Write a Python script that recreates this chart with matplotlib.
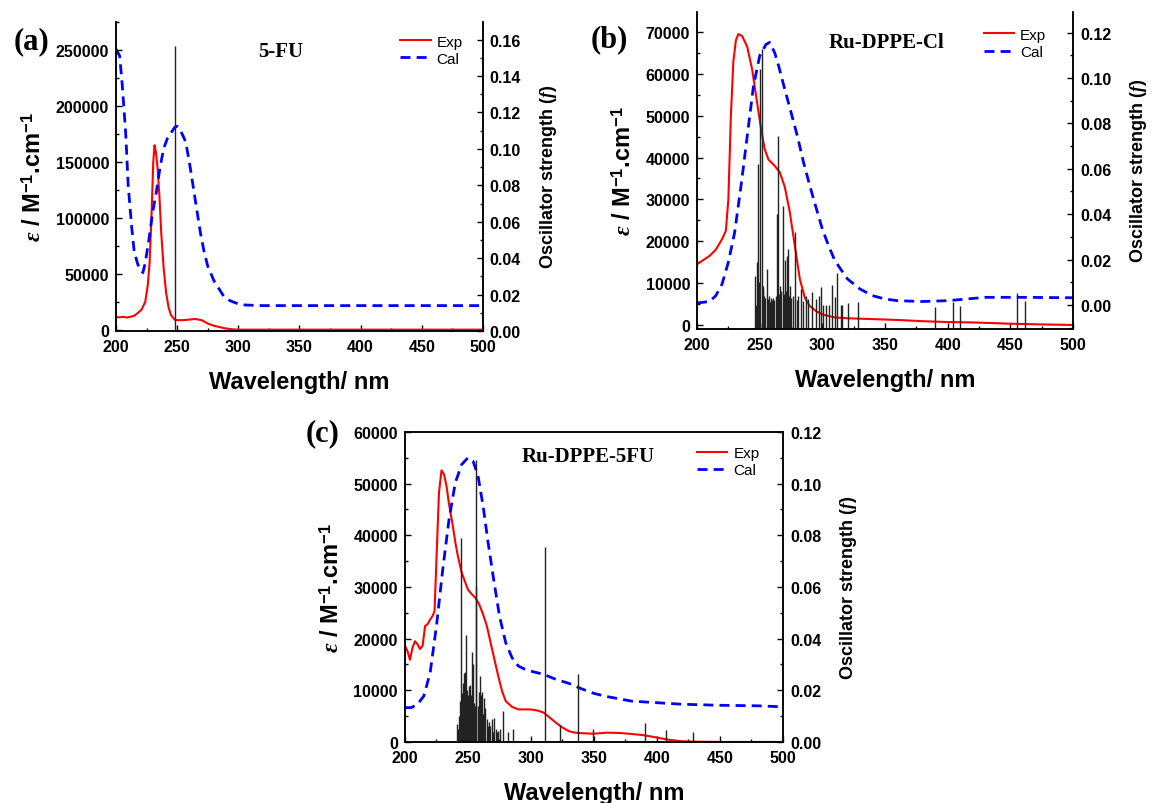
import matplotlib
matplotlib.use('Agg')
import matplotlib.pyplot as plt
from matplotlib.ticker import MultipleLocator, FormatStrFormatter

plt.rcParams['font.family'] = ['Liberation Sans', 'DejaVu Sans']
plt.rcParams['font.weight'] = 'bold'
plt.rcParams['axes.labelweight'] = 'bold'
plt.rcParams['mathtext.fontset'] = 'custom'
plt.rcParams['mathtext.rm'] = 'Liberation Sans:bold'
plt.rcParams['mathtext.bf'] = 'Liberation Sans:bold'
plt.rcParams['mathtext.it'] = 'Liberation Serif:italic'

# ---- (a) 5-FU ----
a_exp_nm = [200, 203, 206, 209, 212, 215, 218, 221, 224, 226, 227.5, 229, 230.5, 231.5,
            232.5, 234, 235.5, 237, 239, 241, 243, 245, 248, 250, 255, 260, 265, 270,
            275, 280, 285, 290, 295, 300, 350, 400, 450, 500]
a_exp_eps = [11300, 11000, 11500, 10800, 11500, 12500, 15000, 18000, 25000, 40000, 60000,
             100000, 150000, 165000, 160000, 145000, 120000, 87000, 55000, 33000, 20000,
             13000, 9000, 8500, 8500, 9000, 9500, 8500, 5500, 3500, 2200, 1000, 300, 0,
             0, 0, 0, 0]
a_cal_nm = [200, 203, 205, 208, 210, 213, 215, 218, 220, 222, 224, 227, 230, 233, 236,
            239, 242, 245, 248, 250, 252, 255, 257, 260, 263, 266, 269, 272, 275, 280,
            284, 288, 293, 300, 306, 320, 400, 500]
a_cal_eps = [251000, 245000, 221000, 175000, 129000, 90000, 69000, 58000, 54000, 51000,
             60000, 81000, 105000, 123000, 145000, 162000, 171000, 176000, 181000, 182000,
             180000, 173000, 168000, 150000, 129000, 108000, 87000, 70000, 57000, 44000,
             37000, 30000, 26000, 23000, 22000, 21500, 21500, 21500]
a_stick_nm = [248.6]
a_stick_f = [0.1565]

# ---- (b) Ru-DPPE-Cl ----
b_exp_nm = [200, 205, 210, 215, 220, 223, 225, 227, 229, 231, 233, 236, 240, 244, 248,
            251, 254, 257, 262, 266, 270, 274, 278, 282, 286, 290, 295, 300, 310, 320,
            350, 360, 380, 400, 420, 450, 480, 500]
b_exp_eps = [14500, 15500, 16500, 18000, 20500, 22500, 30000, 50000, 63000, 68000, 69500,
             69000, 66500, 61000, 53000, 47000, 42000, 39500, 38000, 36500, 33000, 27000,
             19000, 11000, 6500, 4500, 3300, 2500, 1800, 1600, 1300, 1200, 900, 700, 600,
             300, 100, 0]
b_cal_nm = [200, 210, 215, 220, 225, 230, 235, 240, 245, 250, 255, 258, 262, 265, 270,
            275, 280, 285, 290, 295, 300, 305, 310, 320, 330, 340, 350, 360, 380, 400,
            430, 460, 500]
b_cal_eps = [5250, 5600, 7000, 9800, 15000, 22100, 33000, 45000, 57000, 64300, 67000,
             67500, 65000, 62000, 56300, 50800, 45200, 38800, 33250, 28000, 22900, 18900,
             15350, 11000, 8600, 7000, 6200, 5800, 5600, 5800, 6600, 6600, 6500]
b_stick_nm = [246.3, 246.8, 247.6, 248.9, 249.6, 250.3, 251.6, 252.3, 252.9, 253.8, 254.6,
              255.6, 256.5, 257.4, 258.2, 259.0, 259.8, 260.9, 261.8, 262.8, 263.6, 264.9,
              265.6, 266.2, 267.2, 268.3, 269.2, 270.2, 270.9, 271.5, 272.3, 272.9, 273.6,
              274.2, 275.2, 276.4, 278.2, 280.0, 280.8, 283.0, 284.9, 287.0, 288.9, 291.5,
              295.0, 297.0, 299.0, 300.8, 303.0, 305.6, 307.7, 310.1, 312.0, 314.7, 316.0,
              320.8, 328.8, 390.0, 404.3, 410.2, 455.1, 461.8]
b_stick_f = [0.0129, 0.0, 0.0188, 0.062, 0.010, 0.104, 0.1127, 0.007, 0.0085, 0.004, 0.003,
             0.016, 0.0026, 0.004, 0.0012, 0.003, 0.002, 0.003, 0.002, 0.004, 0.040, 0.0745,
             0.005, 0.0085, 0.006, 0.0437, 0.005, 0.020, 0.006, 0.0217, 0.005, 0.0246, 0.004,
             0.0085, 0.003, 0.004, 0.032, 0.002, 0.004, 0.007, 0.0019, 0.0041, 0.0026, 0.0056,
             0.0026, 0.0041, 0.0078, 0.0, 0.0, 0.0, 0.0088, 0.0034, 0.0141, 0.0, 0.0,
             0.0007, 0.0012, -0.0007, 0.0012, -0.0003, 0.0051, 0.0019]

# ---- (c) Ru-DPPE-5FU ----
c_exp_nm = [200, 202, 204, 206, 208, 210, 212, 214, 216, 218, 220, 222, 223.5, 225, 227,
            229, 231, 233, 235, 238, 240, 242, 245, 248, 250, 253, 256, 259, 262, 265,
            268, 271, 274, 277, 280, 285, 290, 295, 300, 305, 310, 315, 320, 325, 330,
            335, 340, 350, 360, 370, 380, 390, 400, 410, 420, 430, 450, 500]
c_exp_eps = [18600, 17600, 15900, 18250, 19500, 18900, 18000, 18600, 22450, 22800, 23700,
             24400, 25350, 35300, 48200, 52570, 51800, 49500, 46000, 41800, 38600, 36000,
             32800, 30800, 29500, 28600, 27900, 26600, 24700, 22450, 19200, 16000, 12800,
             9900, 7900, 6800, 6300, 6300, 6300, 6100, 5700, 4700, 3700, 2800, 2100, 1800,
             1700, 1600, 1800, 1750, 1550, 1300, 850, 400, 130, 60, 0, 0]
c_cal_nm = [200, 205, 210, 215, 220, 225, 230, 235, 240, 245, 250, 254, 258, 262, 266,
            270, 275, 280, 285, 290, 295, 300, 310, 320, 330, 340, 350, 360, 380, 400,
            420, 450, 480, 500]
c_cal_eps = [6650, 6650, 7300, 8900, 13400, 22450, 33400, 43100, 50200, 53700, 55000, 54400,
             51500, 45700, 38600, 32100, 24400, 19200, 16300, 14700, 14100, 13700, 13100,
             12100, 11350, 10300, 9400, 8800, 7900, 7600, 7300, 7100, 7000, 6800]
c_stick_nm = [241.0, 242.0, 242.8, 243.5, 244.3, 245.0, 245.8, 246.6, 247.6, 248.4, 249.2,
              250.0, 250.8, 251.6, 252.4, 253.2, 254.0, 254.8, 255.6, 256.3, 256.7, 257.6,
              258.4, 259.2, 260.2, 261.2, 262.2, 263.0, 263.8, 264.8, 265.8, 266.8, 267.8,
              268.8, 270.0, 271.0, 272.2, 273.2, 274.2, 275.4, 277.6, 282.0, 285.6, 310.8,
              322.8, 337.0, 349.5, 390.8, 407.3, 428.6]
c_stick_f = [0.0068, 0.0050, 0.0100, 0.0160, 0.0790, 0.0190, 0.0230, 0.0268, 0.0270, 0.0414,
             0.0200, 0.0180, 0.0218, 0.0220, 0.0180, 0.0350, 0.0300, 0.0150, 0.0140, 0.1090,
             0.0605, 0.0140, 0.0192, 0.0256, 0.0180, 0.0192, 0.0110, 0.0170, 0.0130, 0.0090,
             0.0063, 0.0076, 0.0063, 0.0090, 0.0037, 0.0092, 0.0050, 0.0040, 0.0044, 0.0050,
             0.0121, 0.0037, 0.0050, 0.0756, 0.0067, 0.0263, 0.0050, 0.0072, 0.0046, 0.0038]


def panel(rect, tag, title, title_xy, exp, cal, sticks, ylim, y2lim, ystep, top_spine,
          legend_xy):
    ax = fig.add_axes(rect)
    ax2 = ax.twinx()
    l1, = ax.plot(exp[0], exp[1], color='#ff0000', lw=1.5, label='Exp')
    l2, = ax.plot(cal[0], cal[1], color='#0000ff', lw=2.0, ls=(0, (3.6, 2.2)), label='Cal')
    ax2.vlines(sticks[0], y2lim[0], sticks[1], color='#222222', lw=1.0)

    ax.set_xlim(200, 500)
    ax.set_ylim(*ylim)
    ax2.set_ylim(*y2lim)
    ax.xaxis.set_major_locator(MultipleLocator(50))
    ax.xaxis.set_minor_locator(MultipleLocator(25))
    ax.yaxis.set_major_locator(MultipleLocator(ystep))
    ax.yaxis.set_minor_locator(MultipleLocator(ystep / 2))
    ax2.yaxis.set_major_locator(MultipleLocator(0.02))
    ax2.yaxis.set_minor_locator(MultipleLocator(0.01))
    ax2.yaxis.set_major_formatter(FormatStrFormatter('%.2f'))

    for a in (ax, ax2):
        a.tick_params(which='major', direction='in', length=4, width=1, labelsize=11.5, pad=5)
        a.tick_params(which='minor', direction='in', length=2.2, width=1)
        for s in a.spines.values():
            s.set_linewidth(1.1)
        a.spines['top'].set_visible(top_spine)
    ax.tick_params(axis='x', pad=6)

    ax.set_xlabel('Wavelength/ nm', fontsize=17, labelpad=11)
    ax.set_ylabel(r'$\varepsilon$ / M$^{-1}$.cm$^{-1}$', fontsize=17, labelpad=7)
    ax2.set_ylabel(r'Oscillator strength $(f)$', fontsize=13, labelpad=12)

    ax.text(title_xy[0], title_xy[1], title, transform=ax.transAxes, ha='center',
            va='center', family='Liberation Serif', fontsize=15, fontweight='bold')
    fig.text(tag[1], tag[2], tag[0], family='Liberation Serif', fontsize=22,
             fontweight='bold', va='center', ha='left')
    ax2.legend([l1, l2], ['Exp', 'Cal'], loc='upper left', bbox_to_anchor=legend_xy,
               frameon=False, handlelength=2.0, handletextpad=0.4, labelspacing=0.2,
               borderpad=0, borderaxespad=0, prop={'size': 11, 'weight': 'normal'})
    return ax


fig = plt.figure(figsize=(11.55, 8.04), dpi=100)

panel([0.1004, 0.5871, 0.3177, 0.3843], ('(a)', 0.012, 0.948), '5-FU', (0.45, 0.907),
      (a_exp_nm, a_exp_eps), (a_cal_nm, a_cal_eps), (a_stick_nm, a_stick_f),
      (-1200, 275300), (0, 0.1697), 50000, False, (0.774, 0.959))
panel([0.6035, 0.5896, 0.3255, 0.3943], ('(b)', 0.511, 0.950), 'Ru-DPPE-Cl', (0.505, 0.904),
      (b_exp_nm, b_exp_eps), (b_cal_nm, b_cal_eps), (b_stick_nm, b_stick_f),
      (-955, 74770), (-0.01056, 0.1291), 10000, False, (0.762, 0.95))
panel([0.3506, 0.0759, 0.3273, 0.3856], ('(c)', 0.265, 0.461), 'Ru-DPPE-5FU', (0.485, 0.924),
      (c_exp_nm, c_exp_eps), (c_cal_nm, c_cal_eps), (c_stick_nm, c_stick_f),
      (0, 60000), (0, 0.12), 10000, True, (0.772, 0.955))

fig.savefig('out.png', dpi=100)
